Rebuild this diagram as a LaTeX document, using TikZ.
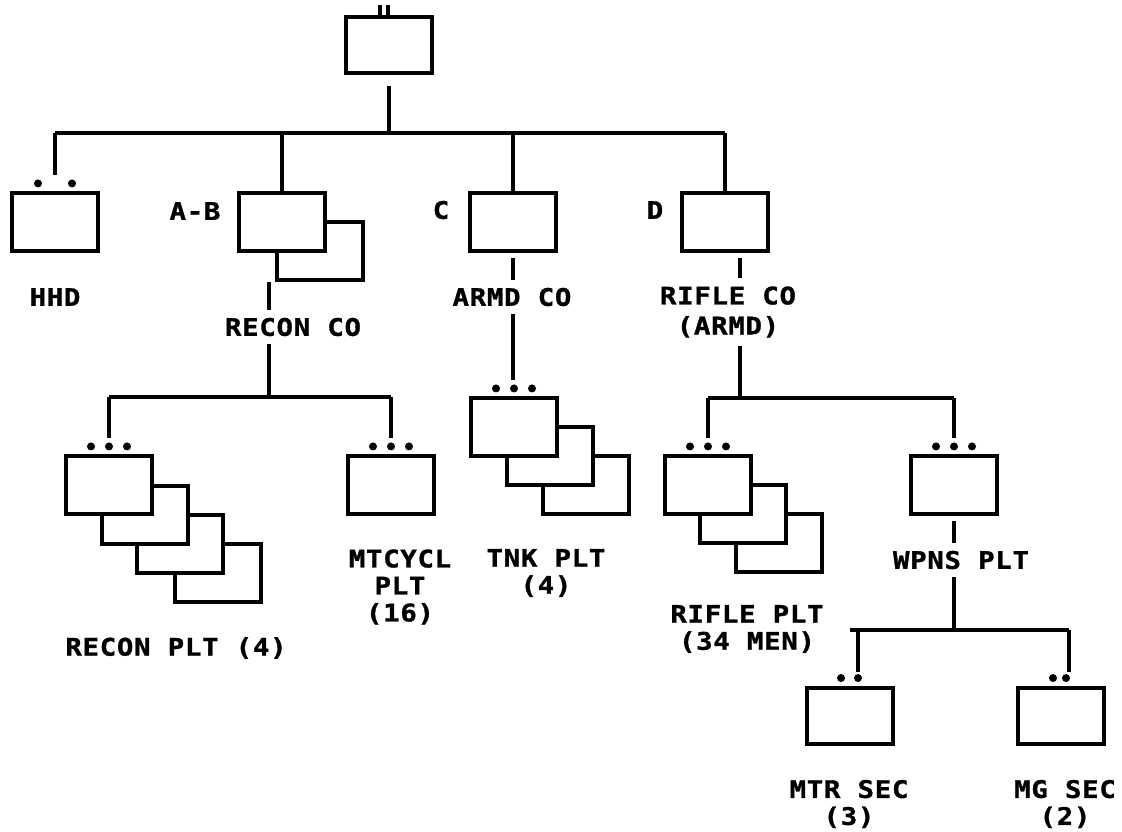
\documentclass[tikz,border=0pt]{standalone}
\usepackage{fontspec}
\newfontfamily\plotfont[FakeStretch=1.13, LetterSpace=3, FakeBold=1.2]{DejaVu Sans Mono}
\usetikzlibrary{positioning}

\tikzset{
  unit/.style={draw, fill=white, line width=2.8pt, minimum width=2.15cm,
               minimum height=1.45cm, inner sep=0pt},
  conn/.style={line width=2.8pt},
  lbl/.style={font=\plotfont\bfseries\fontsize{17.2}{19.2}\selectfont,
              align=center, inner sep=0.2cm},
}

% echelon dots above a unit box
\newcommand\echdots[2]{%
  \foreach \dx in {#2}
    {\fill ([xshift=\dx*0.025cm, yshift=0.19cm]#1.north) circle (0.1cm);}}

\begin{document}
\begin{tikzpicture}[x=0.025cm, y=-0.025cm]
  \useasboundingbox (0,0) rectangle (1122,831);

  % top unit
  \node[unit, minimum height=1.4cm] (hq) at (389,45) {};
  \foreach \dx in {-9,-1}
    \draw[line width=2.2pt] ([xshift=\dx*0.025cm]hq.north) -- ++(0,-10);

  % companies
  \node[unit] (hhd)    at (55,222) {};
  \node[unit] (recon2) at (320,251) {};
  \node[unit] (recon)  at (282,222) {};
  \node[unit] (armd)   at (513,222) {};
  \node[unit] (rifle)  at (725,222) {};
  \echdots{hhd}{-17,17}

  \node[lbl] (lhhd)   at (55,297)  {HHD};
  \node[lbl] (lab)    at (195,211) {A-B};
  \node[lbl] (lrecon) at (293,327) {RECON CO};
  \node[lbl] (lc)     at (441,210) {C};
  \node[lbl] (larmd)  at (512,297) {ARMD CO};
  \node[lbl] (ld)     at (655,210) {D};
  \node[lbl, font=\plotfont\bfseries\fontsize{17.2}{21.3}\selectfont]
    (lrifle) at (728,312) {RIFLE CO\\(ARMD)};

  % platoons
  \node[unit] (rplt4) at (218,573) {};
  \node[unit] (rplt3) at (180,544) {};
  \node[unit] (rplt2) at (145,515) {};
  \node[unit] (rplt1) at (109,485) {};
  \node[unit] (mtcycl) at (391,485) {};
  \node[unit] (tnk3) at (586,485) {};
  \node[unit] (tnk2) at (550,456) {};
  \node[unit] (tnk1) at (514,427) {};
  \node[unit] (fplt3) at (779,543) {};
  \node[unit] (fplt2) at (743,514) {};
  \node[unit] (fplt1) at (708,485) {};
  \node[unit] (wpns) at (954,485) {};
  \foreach \u in {rplt1, mtcycl, tnk1, fplt1, wpns}
    {\echdots{\u}{-18,0,18}}

  \node[lbl] (lrplt)   at (176,648) {RECON PLT (4)};
  \node[lbl] (lmtcycl) at (400,587) {MTCYCL\\PLT\\(16)};
  \node[lbl] (ltnk)    at (546,573) {TNK PLT\\(4)};
  \node[lbl] (lfplt)   at (747,629) {RIFLE PLT\\(34 MEN)};
  \node[lbl] (lwpns)   at (961,560) {WPNS PLT};

  % sections
  \node[unit, minimum height=1.42cm] (mtr) at (850,716) {};
  \node[unit, minimum height=1.42cm] (mg)  at (1061,716) {};
  \echdots{mtr}{-9,8}
  \echdots{mg}{-8,5}
  \node[lbl] (lmtr) at (849,804)  {MTR SEC\\(3)};
  \node[lbl] (lmg)  at (1065,804) {MG SEC\\(2)};

  % connectors
  \coordinate (bus1) at (0,133);
  \coordinate (bus2) at (0,397);
  \coordinate (bus3) at (0,398);
  \coordinate (bus4) at (0,630);
  \coordinate (reconstem) at (269,0);
  \coordinate (riflestem) at (740,0);

  \draw[conn] ([yshift=-0.27cm]hq.south) -- (hq.south |- bus1);
  \draw[conn] (hhd.north |- bus1) -- (rifle.north |- bus1);
  \draw[conn, shorten >=0.4cm] (hhd.north |- bus1) -- (hhd.north);
  \foreach \u in {recon, armd, rifle}
    \draw[conn] (\u.north |- bus1) -- (\u.north);

  \draw[conn] (recon2.south -| reconstem) -- (lrecon.north -| reconstem);
  \draw[conn] (lrecon.south -| reconstem) -- (bus2 -| reconstem);
  \draw[conn] (rplt1.north |- bus2) -- (mtcycl.north |- bus2);
  \foreach \u in {rplt1, mtcycl}
    \draw[conn, shorten >=0.4cm] (\u.north |- bus2) -- (\u.north);

  \draw[conn] ([yshift=-0.12cm]armd.south) -- (armd.south |- larmd.north);
  \draw[conn, shorten >=0.4cm] (armd.south |- larmd.south) -- (armd.south |- tnk1.north);

  \draw[conn] ([yshift=-0.12cm]rifle.south -| riflestem) -- (lrifle.north -| riflestem);
  \draw[conn] (lrifle.south -| riflestem) -- (bus3 -| riflestem);
  \draw[conn] (fplt1.north |- bus3) -- (wpns.north |- bus3);
  \foreach \u in {fplt1, wpns}
    \draw[conn, shorten >=0.4cm] (\u.north |- bus3) -- (\u.north);

  \draw[conn] ([yshift=-0.12cm]wpns.south) -- (wpns.south |- lwpns.north);
  \draw[conn] (wpns.south |- lwpns.south) -- (wpns.south |- bus4);
  \draw[conn] (mtr.north |- bus4) -- ([xshift=0.2cm]mg.north |- bus4);
  \draw[conn, shorten >=0.35cm] ([xshift=0.2cm]mtr.north |- bus4) -- ([xshift=0.2cm]mtr.north);
  \draw[conn, shorten >=0.35cm] ([xshift=0.2cm]mg.north |- bus4) -- ([xshift=0.2cm]mg.north);
\end{tikzpicture}
\end{document}
